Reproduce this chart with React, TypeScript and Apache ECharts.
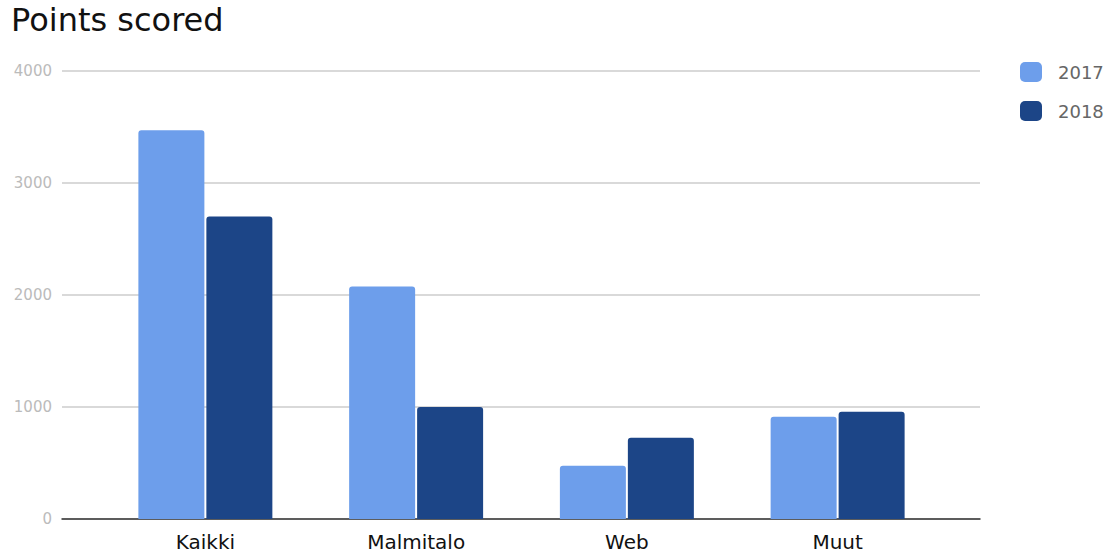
import React, { useEffect, useRef } from "react";
import * as echarts from "echarts";

const categories = ["Kaikki", "Malmitalo", "Web", "Muut"];
const seriesNames = ["2017", "2018"];
const values2017 = [3470, 2075, 475, 912];
const values2018 = [2700, 1000, 725, 958];
const colors = ["#6d9eeb", "#1c4587"];
const FONT = "DejaVu Sans";

export default function App() {
  const ref = useRef<HTMLDivElement>(null);
  useEffect(() => {
    if (!ref.current) return;
    const chart = echarts.init(ref.current, null, { renderer: "svg" });
    chart.setOption({
      animation: false,
      textStyle: { fontFamily: FONT },
      title: {
        text: "Points scored",
        left: 6,
        top: -1,
        textStyle: { fontSize: 32, fontWeight: "normal", color: "#111", fontFamily: FONT },
      },
      legend: {
        orient: "vertical",
        left: 1015,
        top: 57,
        itemWidth: 22,
        itemHeight: 20,
        itemGap: 19,
        icon: "roundRect",
        textStyle: { fontSize: 18, color: "#666", padding: [0, 0, 0, 11], fontFamily: FONT },
        data: seriesNames,
      },
      grid: [
        { left: 100, right: 176, top: 71, bottom: 35 },
        { left: 62, right: 139, top: 71, bottom: 35 },
      ],
      xAxis: [
        {
          type: "category",
          gridIndex: 0,
          data: categories,
          axisLine: { show: false },
          axisTick: { show: false },
          axisLabel: { fontSize: 20, color: "#111", margin: 13 },
        },
        {
          type: "category",
          gridIndex: 1,
          data: categories,
          axisLine: { show: true, lineStyle: { color: "#333", width: 1.5 } },
          axisTick: { show: false },
          axisLabel: { show: false },
        },
      ],
      yAxis: [
        {
          type: "value",
          gridIndex: 0,
          min: 0,
          max: 4000,
          interval: 1000,
          show: false,
          splitLine: { show: false },
        },
        {
          type: "value",
          gridIndex: 1,
          min: 0,
          max: 4000,
          interval: 1000,
          axisLine: { show: false },
          axisTick: { show: false },
          axisLabel: { fontSize: 15, color: "#bbbbbb", margin: 10, formatter: (v: number) => String(v) },
          splitLine: { lineStyle: { color: "#cccccc", width: 1.5 } },
        },
      ],
      series: [
        {
          name: seriesNames[0],
          type: "bar",
          xAxisIndex: 0,
          yAxisIndex: 0,
          data: values2017,
          barWidth: 66,
          barGap: "3%",
          itemStyle: { color: colors[0], borderRadius: [3, 3, 0, 0] },
          z: 3,
        },
        {
          name: seriesNames[1],
          type: "bar",
          xAxisIndex: 0,
          yAxisIndex: 0,
          data: values2018,
          barWidth: 66,
          barGap: "3%",
          itemStyle: { color: colors[1], borderRadius: [3, 3, 0, 0] },
          z: 3,
        },
      ],
    });
    return () => chart.dispose();
  }, []);
  return (
    <div
      ref={ref}
      style={{ position: "absolute", left: 0, top: 0, width: 1119, height: 554 }}
    />
  );
}
